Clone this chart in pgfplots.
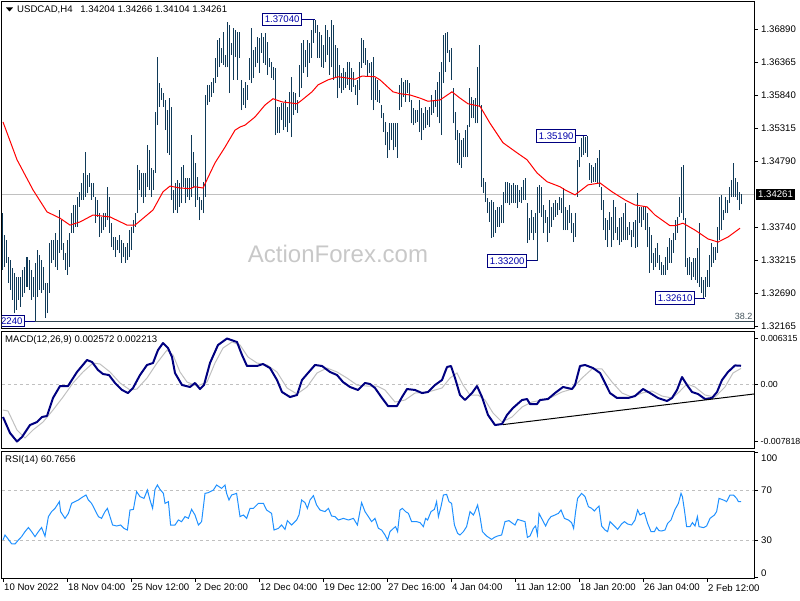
\documentclass[border=0pt]{standalone}
\usepackage{pgfplots}
\usepackage{pgfplotstable}
\usepackage{fontspec}
\setmainfont{Liberation Sans}
\pgfplotsset{compat=1.18}
\definecolor{barc}{RGB}{16,58,88}
\definecolor{mared}{RGB}{255,0,0}
\definecolor{macdc}{RGB}{0,0,128}
\definecolor{sigc}{RGB}{192,192,192}
\definecolor{rsic}{RGB}{30,144,255}
\definecolor{lblue}{RGB}{0,0,170}
\definecolor{lnavy}{RGB}{0,0,128}
\definecolor{fibc}{RGB}{50,70,80}
\definecolor{wm}{RGB}{200,200,200}
\newcommand\lf{\fontsize{9.6pt}{11pt}\selectfont}
\newcommand\smallf{\fontsize{8.8pt}{10pt}\selectfont}

\pgfplotstableread{
i hi lo
0 1.3396 1.3306
1 1.3361 1.3310
2 1.3353 1.3317
3 1.3326 1.3285
4 1.3322 1.3274
5 1.3309 1.3258
6 1.3301 1.3237
7 1.3295 1.3242
8 1.3295 1.3258
9 1.3295 1.3247
10 1.3306 1.3263
11 1.3310 1.3269
12 1.3326 1.3279
13 1.3322 1.3274
14 1.3306 1.3258
15 1.3295 1.3263
16 1.3317 1.3224
17 1.3338 1.3263
18 1.3330 1.3274
19 1.3322 1.3269
20 1.3310 1.3274
21 1.3285 1.3229
22 1.3285 1.3237
23 1.3349 1.3269
24 1.3353 1.3317
25 1.3353 1.3322
26 1.3365 1.3310
27 1.3353 1.3306
28 1.3401 1.3333
29 1.3385 1.3338
30 1.3349 1.3322
31 1.3333 1.3306
32 1.3353 1.3298
33 1.3365 1.3310
34 1.3396 1.3365
35 1.3409 1.3365
36 1.3409 1.3374
37 1.3422 1.3374
38 1.3430 1.3406
39 1.3444 1.3417
40 1.3460 1.3417
41 1.3493 1.3422
42 1.3457 1.3428
43 1.3460 1.3438
44 1.3444 1.3417
45 1.3444 1.3422
46 1.3422 1.3380
47 1.3417 1.3390
48 1.3396 1.3358
49 1.3390 1.3365
50 1.3396 1.3369
51 1.3396 1.3374
52 1.3438 1.3385
53 1.3422 1.3365
54 1.3380 1.3342
55 1.3358 1.3338
56 1.3358 1.3326
57 1.3353 1.3338
58 1.3361 1.3333
59 1.3353 1.3317
60 1.3349 1.3326
61 1.3342 1.3317
62 1.3349 1.3322
63 1.3369 1.3326
64 1.3374 1.3338
65 1.3385 1.3365
66 1.3396 1.3374
67 1.3473 1.3396
68 1.3465 1.3433
69 1.3460 1.3422
70 1.3460 1.3412
71 1.3460 1.3422
72 1.3504 1.3438
73 1.3496 1.3433
74 1.3468 1.3422
75 1.3465 1.3433
76 1.3557 1.3460
77 1.3644 1.3536
78 1.3603 1.3565
79 1.3595 1.3576
80 1.3587 1.3565
81 1.3576 1.3528
82 1.3560 1.3492
83 1.3579 1.3489
84 1.3565 1.3417
85 1.3433 1.3396
86 1.3444 1.3401
87 1.3449 1.3396
88 1.3444 1.3406
89 1.3469 1.3412
90 1.3473 1.3438
91 1.3452 1.3412
92 1.3452 1.3422
93 1.3452 1.3417
94 1.3520 1.3422
95 1.3493 1.3438
96 1.3476 1.3406
97 1.3454 1.3417
98 1.3422 1.3385
99 1.3417 1.3401
100 1.3446 1.3396
101 1.3584 1.3422
102 1.3600 1.3568
103 1.3600 1.3573
104 1.3605 1.3581
105 1.3611 1.3587
106 1.3643 1.3603
107 1.3671 1.3613
108 1.3675 1.3628
109 1.3659 1.3635
110 1.3684 1.3632
111 1.3648 1.3628
112 1.3700 1.3628
113 1.3695 1.3587
114 1.3667 1.3648
115 1.3690 1.3608
116 1.3687 1.3644
117 1.3684 1.3608
118 1.3684 1.3643
119 1.3608 1.3560
120 1.3595 1.3568
121 1.3605 1.3563
122 1.3600 1.3576
123 1.3643 1.3608
124 1.3690 1.3603
125 1.3655 1.3611
126 1.3660 1.3628
127 1.3676 1.3635
128 1.3675 1.3619
129 1.3683 1.3651
130 1.3676 1.3635
131 1.3683 1.3632
132 1.3668 1.3616
133 1.3643 1.3628
134 1.3636 1.3611
135 1.3628 1.3608
136 1.3627 1.3520
137 1.3565 1.3524
138 1.3565 1.3524
139 1.3571 1.3544
140 1.3571 1.3528
141 1.3576 1.3533
142 1.3565 1.3525
143 1.3589 1.3539
144 1.3613 1.3517
145 1.3589 1.3552
146 1.3587 1.3560
147 1.3576 1.3555
148 1.3632 1.3581
149 1.3667 1.3595
150 1.3671 1.3619
151 1.3655 1.3628
152 1.3671 1.3613
153 1.3667 1.3635
154 1.3687 1.3643
155 1.3703 1.3667
156 1.3704 1.3683
157 1.3695 1.3643
158 1.3684 1.3643
159 1.3679 1.3628
160 1.3663 1.3627
161 1.3695 1.3636
162 1.3687 1.3648
163 1.3676 1.3616
164 1.3703 1.3628
165 1.3695 1.3608
166 1.3663 1.3611
167 1.3659 1.3579
168 1.3632 1.3595
169 1.3619 1.3587
170 1.3627 1.3592
171 1.3621 1.3595
172 1.3636 1.3600
173 1.3636 1.3592
174 1.3627 1.3589
175 1.3621 1.3597
176 1.3600 1.3584
177 1.3608 1.3568
178 1.3636 1.3592
179 1.3675 1.3627
180 1.3671 1.3635
181 1.3659 1.3632
182 1.3640 1.3613
183 1.3635 1.3619
184 1.3636 1.3576
185 1.3644 1.3560
186 1.3611 1.3576
187 1.3608 1.3573
188 1.3592 1.3571
189 1.3568 1.3547
190 1.3555 1.3525
191 1.3541 1.3504
192 1.3525 1.3484
193 1.3539 1.3496
194 1.3539 1.3512
195 1.3539 1.3496
196 1.3539 1.3501
197 1.3539 1.3484
198 1.3600 1.3560
199 1.3611 1.3565
200 1.3605 1.3581
201 1.3608 1.3573
202 1.3608 1.3587
203 1.3603 1.3573
204 1.3576 1.3539
205 1.3563 1.3536
206 1.3560 1.3539
207 1.3560 1.3541
208 1.3576 1.3525
209 1.3563 1.3512
210 1.3555 1.3528
211 1.3565 1.3531
212 1.3560 1.3536
213 1.3565 1.3533
214 1.3584 1.3552
215 1.3576 1.3555
216 1.3592 1.3565
217 1.3605 1.3549
218 1.3621 1.3539
219 1.3636 1.3520
220 1.3679 1.3603
221 1.3683 1.3621
222 1.3684 1.3651
223 1.3655 1.3636
224 1.3659 1.3608
225 1.3595 1.3539
226 1.3557 1.3512
227 1.3528 1.3476
228 1.3524 1.3473
229 1.3512 1.3468
230 1.3516 1.3485
231 1.3528 1.3485
232 1.3536 1.3485
233 1.3595 1.3533
234 1.3581 1.3547
235 1.3576 1.3547
236 1.3579 1.3539
237 1.3628 1.3539
238 1.3663 1.3565
239 1.3568 1.3438
240 1.3452 1.3428
241 1.3446 1.3414
242 1.3420 1.3396
243 1.3414 1.3382
244 1.3417 1.3357
245 1.3414 1.3358
246 1.3401 1.3365
247 1.3406 1.3374
248 1.3406 1.3374
249 1.3409 1.3380
250 1.3430 1.3380
251 1.3446 1.3412
252 1.3446 1.3412
253 1.3444 1.3409
254 1.3441 1.3412
255 1.3444 1.3412
256 1.3441 1.3412
257 1.3441 1.3404
258 1.3433 1.3414
259 1.3438 1.3412
260 1.3449 1.3417
261 1.3452 1.3417
262 1.3412 1.3349
263 1.3388 1.3353
264 1.3401 1.3365
265 1.3390 1.3353
266 1.3396 1.3365
267 1.3438 1.3320
268 1.3441 1.3396
269 1.3438 1.3390
270 1.3409 1.3365
271 1.3401 1.3380
272 1.3390 1.3350
273 1.3417 1.3365
274 1.3406 1.3374
275 1.3412 1.3385
276 1.3417 1.3390
277 1.3412 1.3393
278 1.3422 1.3401
279 1.3420 1.3396
280 1.3436 1.3369
281 1.3406 1.3369
282 1.3401 1.3369
283 1.3409 1.3380
284 1.3396 1.3365
285 1.3380 1.3350
286 1.3396 1.3358
287 1.3481 1.3422
288 1.3501 1.3469
289 1.3516 1.3485
290 1.3519 1.3489
291 1.3517 1.3492
292 1.3519 1.3485
293 1.3476 1.3449
294 1.3473 1.3444
295 1.3469 1.3446
296 1.3476 1.3446
297 1.3484 1.3444
298 1.3496 1.3438
299 1.3438 1.3401
300 1.3417 1.3369
301 1.3388 1.3353
302 1.3385 1.3342
303 1.3398 1.3369
304 1.3390 1.3342
305 1.3417 1.3353
306 1.3406 1.3365
307 1.3374 1.3353
308 1.3388 1.3345
309 1.3390 1.3350
310 1.3396 1.3353
311 1.3412 1.3353
312 1.3374 1.3353
313 1.3382 1.3361
314 1.3369 1.3342
315 1.3382 1.3358
316 1.3385 1.3341
317 1.3428 1.3342
318 1.3406 1.3380
319 1.3406 1.3374
320 1.3406 1.3385
321 1.3406 1.3369
322 1.3396 1.3342
323 1.3374 1.3301
324 1.3361 1.3317
325 1.3333 1.3306
326 1.3341 1.3310
327 1.3349 1.3317
328 1.3330 1.3306
329 1.3318 1.3298
330 1.3314 1.3298
331 1.3326 1.3298
332 1.3342 1.3306
333 1.3357 1.3317
334 1.3353 1.3317
335 1.3365 1.3333
336 1.3385 1.3353
337 1.3390 1.3365
338 1.3422 1.3390
339 1.3469 1.3396
340 1.3473 1.3385
341 1.3388 1.3310
342 1.3325 1.3298
343 1.3326 1.3298
344 1.3318 1.3290
345 1.3325 1.3295
346 1.3325 1.3290
347 1.3341 1.3285
348 1.3380 1.3279
349 1.3295 1.3269
350 1.3290 1.3261
351 1.3295 1.3263
352 1.3306 1.3279
353 1.3330 1.3279
354 1.3349 1.3310
355 1.3342 1.3317
356 1.3342 1.3322
357 1.3374 1.3333
358 1.3422 1.3353
359 1.3425 1.3369
360 1.3401 1.3385
361 1.3422 1.3396
362 1.3417 1.3396
363 1.3438 1.3412
364 1.3449 1.3422
365 1.3476 1.3422
366 1.3452 1.3422
367 1.3446 1.3417
368 1.3430 1.3401
369 1.3427 1.3410
}\bars

\pgfplotstableread{
i p
0 1.3541
7 1.3481
15 1.3433
22 1.3398
28.5 1.3388
33.5 1.3377
38.5 1.3382
45 1.3393
53.5 1.3390
62 1.3377
66 1.3377
75 1.3401
80 1.3430
83.5 1.3439
88.5 1.3436
93.5 1.3435
96 1.3438
100 1.3436
106 1.3476
111 1.3501
116 1.3528
118.5 1.3533
121 1.3536
126 1.3549
131 1.3568
135 1.3578
139.5 1.3573
144.5 1.3571
147 1.3570
149.5 1.3576
154.5 1.3589
157.5 1.3600
162.5 1.3608
167.5 1.3613
176 1.3609
179.5 1.3614
186 1.3613
188.5 1.3608
195 1.3589
198.5 1.3586
203.5 1.3584
208.5 1.3579
212.5 1.3574
218.5 1.3576
224.5 1.3589
228.5 1.3579
232.5 1.3570
238.5 1.3566
243.5 1.3539
250 1.3508
257 1.3492
262 1.3481
267 1.3460
272 1.3446
278.5 1.3438
281 1.3433
286 1.3425
292.5 1.3441
298.5 1.3444
304.5 1.3430
311 1.3417
316 1.3409
322 1.3406
326 1.3393
333.5 1.3376
336 1.3376
340 1.3380
346 1.3369
352.5 1.3355
357.5 1.3350
362.5 1.3358
368.5 1.3372
}\ma

\pgfplotstableread{
i m
0 -0.00446
3.5 -0.00665
7 -0.00782
9.5 -0.00720
13.5 -0.00556
17 -0.00515
19.5 -0.00446
22 -0.00432
25 -0.00185
28.5 -0.00021
32.5 -0.00021
37 0.00172
42 0.00336
44.5 0.00309
47.5 0.00199
50 0.00144
53 0.00130
56 0.00021
59.5 -0.00075
62.5 -0.00117
65 -0.00048
68.5 0.00130
72 0.00268
75 0.00295
77.5 0.00473
80 0.00569
82.5 0.00501
84.5 0.00377
86 0.00158
89.5 -0.00007
93.5 -0.00034
96 0.00021
98.5 -0.00062
100.5 -0.00007
103.5 0.00295
107.5 0.00542
112 0.00631
117 0.00583
119.5 0.00405
122 0.00254
127 0.00254
130 0.00281
133.5 0.00226
137 0.00062
139.5 -0.00103
143.5 -0.00172
147 -0.00144
149.5 0.00062
152.5 0.00158
156 0.00268
159.5 0.00254
163.5 0.00172
167 0.00130
170 0.00034
173.5 -0.00034
177.5 -0.00075
181 0.00021
183.5 0.00007
186 -0.00048
189.5 -0.00185
192.5 -0.00295
197 -0.00295
199.5 -0.00172
202 -0.00062
206 -0.00075
209.5 -0.00117
212.5 -0.00103
216 -0.00007
219.5 0.00062
222 0.00240
224 0.00254
226 0.00089
228.5 -0.00144
231 -0.00213
234.5 -0.00117
237 -0.00021
239.5 -0.00172
242.5 -0.00418
246 -0.00556
249.5 -0.00542
252 -0.00418
255 -0.00322
259.5 -0.00213
262 -0.00199
263.5 -0.00268
267 -0.00268
268.5 -0.00213
272.5 -0.00199
276 -0.00117
280 -0.00034
284.5 -0.00062
286 -0.00007
288.5 0.00254
291 0.00268
295 0.00226
298.5 0.00158
301 0.00021
303.5 -0.00117
307 -0.00185
312.5 -0.00185
316 -0.00158
320 -0.00062
323.5 -0.00117
327.5 -0.00185
332 -0.00226
334.5 -0.00185
337 -0.00075
339.5 0.00103
342 -0.00007
344.5 -0.00103
347.5 -0.00130
351 -0.00199
354.5 -0.00185
357 -0.00103
359.5 0.00062
362.5 0.00172
366 0.00262
369 0.00257
}\macd

\pgfplotstableread{
i s
0 -0.00350
2.5 -0.00364
7 -0.00624
11 -0.00734
15 -0.00624
20 -0.00515
25 -0.00350
30 -0.00172
35 0.00021
40 0.00172
45 0.00295
48.5 0.00281
53.5 0.00172
58.5 0.00021
63.5 -0.00075
67 -0.00062
72 0.00089
77 0.00295
82 0.00473
85 0.00405
88.5 0.00172
92 0.00034
97 -0.00021
102 0.00034
106 0.00295
110 0.00501
114.5 0.00583
118.5 0.00542
122.5 0.00377
127 0.00295
132 0.00268
137 0.00172
142 -0.00048
147 -0.00130
152 -0.00034
157 0.00158
162 0.00226
167 0.00172
172 0.00089
177 -0.00007
182 -0.00021
187 -0.00021
191 -0.00075
196 -0.00240
201 -0.00213
206 -0.00117
212.5 -0.00103
219.5 -0.00048
223.5 0.00089
227 0.00158
230 -0.00007
233.5 -0.00144
237.5 -0.00144
241 -0.00213
245 -0.00391
249.5 -0.00515
254.5 -0.00446
259.5 -0.00309
264.5 -0.00240
269.5 -0.00213
274.5 -0.00172
279.5 -0.00103
284.5 -0.00062
289.5 0.00089
294.5 0.00213
299.5 0.00213
304.5 0.00034
309.5 -0.00117
314.5 -0.00172
319.5 -0.00117
324.5 -0.00089
329.5 -0.00158
334.5 -0.00185
337.5 -0.00117
342 0.00007
346 -0.00034
351 -0.00144
356 -0.00172
361 -0.00034
365 0.00158
369 0.00221
}\sig

\pgfplotstableread{
i r
0 30
1 34
2.7 30.5
4.3 27
6 26.8
7.7 30
9.3 32.7
11 36.7
12.7 40
14.3 36.7
16 32.7
17.7 36.7
19.3 40
21 33
22.7 48.7
24.3 52.7
26 55.3
28.2 60.7
28.8 52.7
31 47.3
32.7 51.3
34.3 59.3
36 60.7
37.7 62
39.3 63.9
41.5 66
42.7 62
44.3 59.3
46 54
47.7 48.7
49.3 47.3
51 52.7
52.2 55.3
53.5 48.7
54.8 42
56.8 41.2
58.8 42
60.5 39.3
62.2 38
63.5 54
65.2 54.5
66.8 68.7
68.5 64.7
70.5 63.3
72.2 70
73.5 62
74.8 55.3
76 70.5
77.2 74
78.5 70.5
80.2 67.3
81 59.3
82.7 60.7
83.8 42
86 42
87.7 46
89.3 44.7
91 48.7
92.7 47.3
94.3 54.5
96 50
97.7 42
99.3 44.7
101 67.3
102.7 67.9
105.2 70
106.8 74
109.3 71.3
111 74
111.8 67.3
113 62
114.3 66
116.8 67.3
118.5 48.7
120.2 50
121.8 47.3
123.5 55.3
125.2 55.3
127.7 59.3
130.2 59.3
131.8 54
134.3 51.3
135.5 38
137.7 39.3
139.3 42
141 38.5
142.2 45.5
144.3 42
146.8 46
148 50
149.3 62
151 59.9
152.2 55.3
153.5 62
155.2 65.5
156.8 58
158.5 54
161 52.7
162.7 55.3
164.3 49.2
166 48.7
167.7 46
170.2 47.3
172.7 46
175.2 47.3
177.2 42
179.3 59.9
181 52.7
182.7 48.7
184.3 44.7
186 47.3
187.7 39.3
189.3 38
191 34
192.3 30
193.5 36.7
195.2 39.3
196.3 40.7
197.3 36.7
198.5 54
199.7 55.3
201.3 52.7
202.7 51.3
204.3 44.7
206.8 44.7
208.5 43.9
210.2 40.7
211.3 47.3
212.3 46
214 52.7
215.7 54.5
216.8 60.7
217.7 48.7
219 56.7
220.2 66
221.8 66.5
223 60.7
224.3 59.3
225.7 42
227.3 35.3
228.5 34
230.2 36.7
231.8 40.7
233.5 52.7
235.2 50
236 52.7
237.3 58
238.5 48.7
239.7 36.7
241.8 33.2
244.3 30.5
245.7 32.1
247.3 33.2
249.3 34
251 44.7
253 45.5
254.3 43.9
256 42
257.3 46.5
259.3 45.5
261 44.7
262.2 32.1
263.5 33.2
265.2 39.3
266.3 41.2
267.2 34
268 51.3
269.3 47.3
271.3 41.2
272.7 46
274 48.7
276 50
277.7 51.3
279 54
280.7 47.3
282.7 46
284.3 43.9
285.3 39.3
286.3 52.7
287.3 63.3
289.3 67.3
291 64.7
292.7 56.7
294.3 55.3
295.7 53.2
296.8 55.3
298 57.2
299.3 41.2
301 38
302.3 36.7
303.5 44.7
305.2 42
307.3 38.5
309.3 42.8
310.7 44.7
312.3 42.8
314.3 42
316 46
317.3 54
318.5 50
320.7 51.9
322.3 43.3
324 36.7
325.7 36.7
326.8 40.1
328 37.5
329.3 37.2
331 38
332.3 43.3
334 46
336 54.5
337.7 59.3
339 67.3
339.7 64.7
340.7 54
341.8 40.7
343.5 40.7
344.7 43.9
346 41.2
347.2 48.7
348 40.7
350.2 39.9
351.8 41.2
353.5 47.3
355.7 50
356.8 52.7
358 63.3
360.2 62
361.8 60.7
363.5 66
365.2 66
366.8 63.3
367.7 60.7
369 60.8
}\rsi

\pgfplotsset{
  every axis/.append style={
    scale only axis, anchor=south west,
    xmin=-0.5, xmax=375.5,
    axis line style={black, line width=1pt},
    tick style={black, line width=0.8pt},
    tick align=outside, major tick length=4pt,
    ytick pos=right,
    scaled y ticks=false,
    tick label style={font=\lf},
    yticklabel style={anchor=west, inner sep=0pt, xshift=3pt},
  }
}

\begin{document}
\begin{tikzpicture}[x=1pt,y=1pt]
\path[use as bounding box] (0pt,0pt) rectangle (800pt,600pt);

% ---------------- main price panel
\begin{axis}[at={(2pt,271pt)}, width=752pt, height=327pt,
  ymin=1.32117, ymax=1.37319, xtick=\empty,
  ytick={1.32165,1.32690,1.33215,1.33740,1.34790,1.35315,1.35840,1.36365,1.36890},
  yticklabels={1.32165,1.32690,1.33215,1.33740,1.34790,1.35315,1.35840,1.36365,1.36890}]
\node[text=wm, anchor=base, font=\fontsize{24pt}{28pt}\selectfont] at (axis cs:167.5,1.3317) {ActionForex.com};
\addplot[forget plot, sigc, line width=1pt] coordinates {(-0.5,1.34261) (375.5,1.34261)};
\addplot[forget plot, fibc, line width=1pt] coordinates {(-0.5,1.3224) (375.5,1.3224)};
\addplot[forget plot, draw=none, mark=none, error bars/.cd, y dir=plus, y explicit, error mark=none,
  error bar style={draw=barc, line width=1pt}]
  table[x=i, y=lo, y error expr=\thisrow{hi}-\thisrow{lo}] {\bars};
\addplot[forget plot, mared, line width=1pt, mark=none] table[x=i, y=p] {\ma};
\node[text=fibc!80!gray, anchor=south east, inner sep=1pt, font=\fontsize{9pt}{10pt}\selectfont] at (axis cs:375.3,1.32255) {38.2};
% price labels
\draw[lnavy, line width=1pt] (axis cs:149.5,1.3704) -- (axis cs:156,1.3704);
\node[draw=lnavy, fill=white, text=lblue, anchor=east, inner xsep=2pt, inner ysep=3pt, line width=1pt, font=\lf] at (axis cs:149.5,1.3704) {1.37040};
\draw[lnavy, line width=1pt] (axis cs:286.5,1.3519) -- (axis cs:292,1.3519);
\node[draw=lnavy, fill=white, text=lblue, anchor=east, inner xsep=2pt, inner ysep=3pt, line width=1pt, font=\lf] at (axis cs:286.5,1.3519) {1.35190};
\draw[lnavy, line width=1pt] (axis cs:262,1.3320) -- (axis cs:267,1.3320);
\node[draw=lnavy, fill=white, text=lblue, anchor=east, inner xsep=2pt, inner ysep=3pt, line width=1pt, font=\lf] at (axis cs:262,1.3320) {1.33200};
\draw[lnavy, line width=1pt] (axis cs:346,1.3261) -- (axis cs:351,1.3261);
\node[draw=lnavy, fill=white, text=lblue, anchor=east, inner xsep=2pt, inner ysep=3pt, line width=1pt, font=\lf] at (axis cs:346,1.3261) {1.32610};
\draw[lnavy, line width=1pt] (axis cs:11,1.3224) -- (axis cs:16,1.3224);
\node[draw=lnavy, fill=white, text=lblue, anchor=east, inner xsep=2pt, inner ysep=2pt, line width=1pt, font=\lf] at (axis cs:11,1.3224) {1.32240};
\coordinate (cp) at (axis cs:375.5,1.34261);
\end{axis}
\node[anchor=west, fill=black, text=white, inner xsep=2.5pt, inner ysep=2pt, font=\lf] at ([xshift=1.5pt]cp) {1.34261};

% ---------------- MACD panel
\begin{axis}[at={(2pt,152pt)}, width=752pt, height=117pt,
  ymin=-0.00871, ymax=0.00734, xtick=\empty,
  ytick={-0.007818,0,0.006315}, yticklabels={-0.007818,0.00,0.006315},
  yticklabel style={font=\smallf, xshift=-0.5pt}]
\addplot[forget plot, sigc, line width=1pt, dash pattern=on 3pt off 3pt] coordinates {(-0.5,0) (375.5,0)};
\addplot[forget plot, sigc, line width=1pt, mark=none] table[x=i, y=s] {\sig};
\addplot[forget plot, macdc, line width=2pt, mark=none, line join=round] table[x=i, y=m] {\macd};
\addplot[forget plot, black, line width=1pt, mark=none] coordinates {(250,-0.00550) (375.5,-0.00130)};
\end{axis}

% ---------------- RSI panel
\begin{axis}[at={(2pt,22pt)}, width=752pt, height=127pt, clip=false,
  ymin=-0.4, ymax=101.2,
  ytick={30,70}, yticklabels={30,70},
  extra y ticks={0,100}, extra y tick labels={,},
  xtick={0,32,64,96,128,160,192,224,256,288,320,352},
  xticklabels={10 Nov 2022,18 Nov 04:00,25 Nov 12:00,2 Dec 20:00,12 Dec 04:00,19 Dec 12:00,27 Dec 16:00,4 Jan 04:00,11 Jan 12:00,18 Jan 20:00,26 Jan 04:00,2 Feb 12:00},
  xtick pos=left,
  xticklabel style={anchor=north west, inner sep=0pt, xshift=1pt, yshift=-2pt}]
\addplot[forget plot, sigc, line width=1pt, dash pattern=on 3pt off 3pt] coordinates {(-0.5,70) (375.5,70)};
\addplot[forget plot, sigc, line width=1pt, dash pattern=on 3pt off 3pt] coordinates {(-0.5,30) (375.5,30)};
\addplot[forget plot, rsic, line width=1pt, mark=none] table[x=i, y=r] {\rsi};
\node[anchor=west, inner sep=0pt, font=\lf] at ([xshift=7pt]axis cs:375.5,95.6) {100};
\node[anchor=west, inner sep=0pt, font=\lf] at ([xshift=7pt]axis cs:375.5,3.6) {0};
\end{axis}

% ---------------- panel titles
\fill (6pt,592.5pt) -- (13pt,592.5pt) -- (9.5pt,588.5pt) -- cycle;
\node[anchor=west, inner sep=0pt, font=\lf] at (17pt,590pt) {USDCAD,H4\hspace{5pt} 1.34204 1.34266 1.34104 1.34261};
\node[anchor=west, inner sep=0pt, font=\lf] at (5pt,260pt) {MACD(12,26,9) 0.002572 0.002213};
\node[anchor=west, inner sep=0pt, font=\lf] at (5pt,140pt) {RSI(14) 60.7656};
\end{tikzpicture}
\end{document}
